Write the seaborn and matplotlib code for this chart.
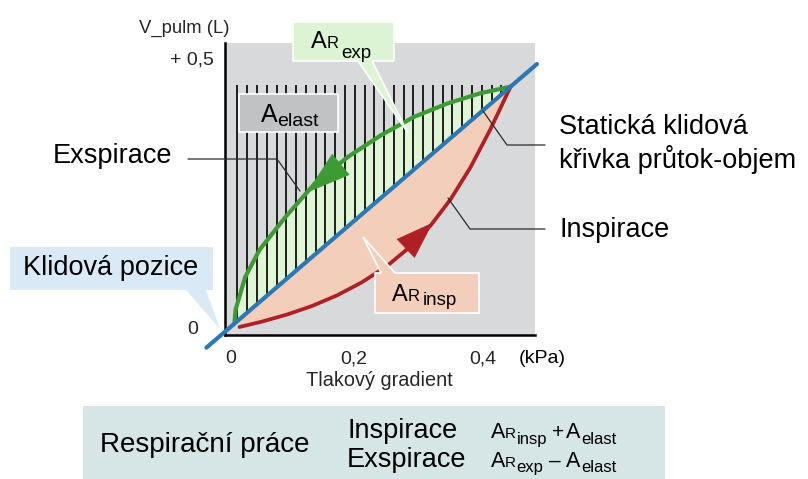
import numpy as np
import matplotlib
matplotlib.use("Agg")
import matplotlib.pyplot as plt
import seaborn as sns
from matplotlib.patches import Polygon, Rectangle, FancyArrowPatch, ArrowStyle
from matplotlib.transforms import ScaledTranslation

# ---------------- data (kPa, L) ----------------
static_p = [-0.028, 0.483]
static_v = [-0.029, 0.497]

exp_p = [0.0155, 0.017, 0.032, 0.054, 0.094, 0.140, 0.191, 0.242, 0.293, 0.345, 0.396, 0.442]
exp_v = [0.0185, 0.041, 0.102, 0.152, 0.213, 0.276, 0.325, 0.365, 0.399, 0.424, 0.443, 0.455]

insp_p = [0.0232, 0.0584, 0.0968, 0.1352, 0.1735, 0.2118, 0.2502, 0.2885, 0.3192, 0.3498, 0.3805, 0.4112, 0.4419]
insp_v = [0.0093, 0.0195, 0.0325, 0.0482, 0.0677, 0.0918, 0.1215, 0.1595, 0.1984, 0.2466, 0.3059, 0.3763, 0.4542]

elast_top_v = 0.458

x_ticks = [0, 0.2, 0.4]
x_labels = ["0", "0,2", "0,4"]
y_ticks = [0, 0.5]
y_labels = ["0", "+ 0,5"]

# ---------------- style ----------------
sns.set_style("white")
plt.rcParams["font.family"] = ["Liberation Sans", "DejaVu Sans"]

GREEN = "#3e9a34"
RED = "#b01f24"
BLUE = "#2b78b4"
PINK = "#f3cfbb"
LGREEN = "#e0f5d5"
GRAY = "#d8d9db"

W, H = 808, 479
fig = plt.figure(figsize=(W / 100, H / 100), dpi=100)
ax = fig.add_axes([224.5 / W, 1 - 334.5 / H, 310.5 / W, 291.5 / H])
ax.set_xlim(0.004, 0.480)
ax.set_ylim(-0.0046, 0.536)
ax.set_facecolor(GRAY)

def sv(p):
    return np.interp(p, static_p, static_v)

# fills
ax.fill_between(exp_p, sv(exp_p), exp_v, color=LGREEN, lw=0, zorder=1)
ax.fill_between(insp_p, insp_v, sv(insp_p), color=PINK, lw=0, zorder=1)

# vertical hatching of the elastic-work area (decorative pattern)
hx = np.linspace(0.020, 0.428, 28)
ax.vlines(hx, sv(hx), elast_top_v, colors="#1e1e1e", lw=1.4, zorder=2)

# curves
sns.lineplot(x=exp_p, y=exp_v, sort=False, estimator=None, color=GREEN, lw=3.0,
             ax=ax, zorder=3)
sns.lineplot(x=insp_p, y=insp_v, sort=False, estimator=None, color=RED, lw=2.7,
             ax=ax, zorder=3)
sns.lineplot(x=static_p, y=static_v, sort=False, estimator=None, color=BLUE, lw=3.0,
             ax=ax, zorder=4)
ax.lines[-1].set_clip_on(False)
for ln in ax.lines:
    ln.set_solid_joinstyle("round")

# direction arrows
def arrow(px, pv, p_tail, p_tip, color, hl, hw):
    a = FancyArrowPatch((p_tail, np.interp(p_tail, px, pv)), (p_tip, np.interp(p_tip, px, pv)),
                        arrowstyle=ArrowStyle("-|>", head_length=hl, head_width=hw),
                        mutation_scale=1, shrinkA=0, shrinkB=0, color=color, lw=0.5, zorder=5)
    ax.add_patch(a)

arrow(exp_p, exp_v, 0.205, 0.127, GREEN, 31, 9.5)
arrow(insp_p, insp_v, 0.255, 0.322, RED, 26, 9)

# spines / ticks
for s in ["top", "right"]:
    ax.spines[s].set_visible(False)
for s in ["left", "bottom"]:
    ax.spines[s].set_color("black")
    ax.spines[s].set_linewidth(1.8)

ax.set_xticks(x_ticks, x_labels)
ax.set_yticks(y_ticks, y_labels)
ax.tick_params(axis="x", direction="in", length=13.5, width=0.9, color="#111111",
               labelsize=14, pad=11.5)
ax.tick_params(axis="y", direction="in", length=14.5, width=1.1, color="#111111",
               labelsize=14, pad=7.5)
ax.xaxis.get_major_ticks()[0].tick1line.set_visible(False)
ax.yaxis.get_major_ticks()[0].tick1line.set_visible(False)

def shift(lbl, dx, dy):
    lbl.set_transform(lbl.get_transform() + ScaledTranslation(dx / 100, dy / 100, fig.dpi_scale_trans))

xl = ax.get_xticklabels()
yl = ax.get_yticklabels()
shift(xl[0], 6, 0)
shift(yl[0], -16, 4.5)
shift(yl[1], 0, 4)

ax.set_xlabel("Tlakový gradient", fontsize=14.3, labelpad=2.5)
ax.set_ylabel("V_pulm (L)", rotation=0, fontsize=13.3, ha="right", va="baseline")
ax.yaxis.set_label_coords(0.0177, 1.0333)

# ---------------- overlay (annotations in pixel space) ----------------
ov = fig.add_axes([0, 0, 1, 1], zorder=5)
ov.set_xlim(0, W)
ov.set_ylim(H, 0)
ov.axis("off")

# boxes
ov.add_patch(Rectangle((83, 406), 582, 80, facecolor="#d6e5e5", edgecolor="none", zorder=1))
ov.add_patch(Polygon([(10, 247), (213, 247), (213, 290), (206, 290), (220, 329), (186, 290), (10, 290)],
                     closed=True, facecolor="#d9e9f5", edgecolor="none", zorder=2))
ov.add_patch(Polygon([(293, 22), (394, 22), (394, 61), (372, 61), (408, 133), (358, 61), (293, 61)],
                     closed=True, facecolor="#dcf4d4", edgecolor="white", lw=1.2, zorder=2))
ov.add_patch(Rectangle((239, 94), 99, 38, facecolor="#c1c2c4", edgecolor="white", lw=1.2, zorder=2))
ov.add_patch(Polygon([(375, 273), (381, 273), (363, 237), (395, 273), (479, 273), (479, 313), (375, 313)],
                     closed=True, facecolor=PINK, edgecolor="white", lw=1.2, zorder=2))

# leader lines
for xs, ys in [([188, 277, 300], [159, 159, 191]),
               ([545, 507, 483], [145, 145, 111]),
               ([545, 470, 448], [229, 229, 198])]:
    ov.plot(xs, ys, color="#2b2b2b", lw=0.9, zorder=3)

LS = 19.5
def txt(x, y, s, size=LS):
    ov.text(x, y, s, fontsize=size, ha="left", va="baseline", color="black", zorder=4)

txt(52.7, 163.3, "Exspirace")
txt(559, 134, "Statická klidová")
txt(559, 168, "křivka průtok-objem")
txt(559, 237.3, "Inspirace")
txt(23.3, 275, "Klidová pozice")
txt(519, 363.3, "(kPa)", 14)
txt(100, 452, "Respirační práce", 20)
txt(347, 438, "Inspirace")
txt(347, 467, "Exspirace")

renderer = fig.canvas.get_renderer()
def compose(x, y, pieces):
    for s, size, dy, gap in pieces:
        x += gap
        t = ov.text(x, y + dy, s, fontsize=size, ha="left", va="baseline", color="black", zorder=4)
        x += t.get_window_extent(renderer=renderer).width

compose(310.5, 48.3, [("A", 17, 0, 0), ("R", 12, 0, 0), ("exp", 13.5, 9.4, 3)])
compose(260.5, 121.7, [("A", 18, 0, 0), ("elast", 14, 4.3, 0.5)])
compose(391.5, 301.3, [("A", 17, 0, 0), ("R", 12, 0, 0), ("insp", 13.5, 4.0, 3)])

compose(490.5, 438.3, [("A", 15.5, 0, 0), ("R", 11, 0, 0), ("insp", 12, 5.7, 0.5)])
compose(552, 438.3, [("+", 15, 0, 0)])
compose(566, 438.3, [("A", 15.5, 0, 0), ("elast", 12, 5.7, 0.5)])
compose(490.5, 466.7, [("A", 15.5, 0, 0), ("R", 11, 0, 0), ("exp", 12, 5.7, 0.5)])
compose(549, 466.7, [("–", 15, 0, 0)])
compose(566, 466.7, [("A", 15.5, 0, 0), ("elast", 12, 5.7, 0.5)])

fig.savefig("out.png", dpi=100)
